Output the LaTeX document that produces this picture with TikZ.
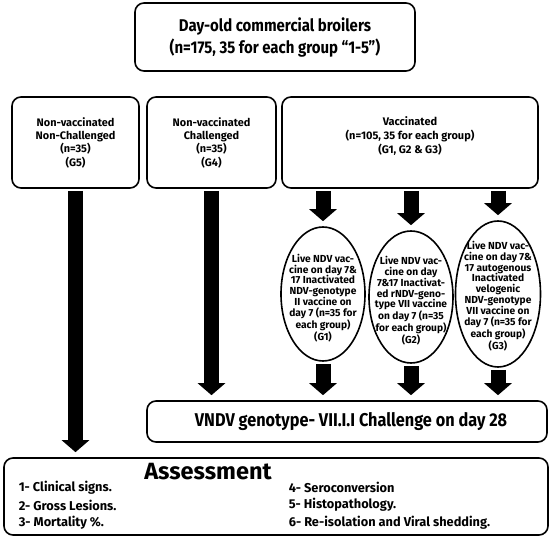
\documentclass[tikz,border=0pt]{standalone}
\usepackage{fontspec}
\setmainfont{Fira Sans}
\newfontfamily\condfont{Fira Sans}[FakeStretch=0.88]
\usetikzlibrary{
	positioning,
	shapes.geometric,
	arrows.meta
}
\tikzset{
	every picture/.style={
		line width=1.6pt,
		x=1pt,
		y=-1pt,
		font=\bfseries,
	},
}
\tikzstyle{box} = [
	draw,
	rounded corners=9pt,
	align=center,
	inner sep=0pt
]
\tikzstyle{oval} = [draw, ellipse, inner sep=0pt, minimum width=84]
\tikzstyle{ovaltext} = [align=center, font=\bfseries\fontsize{10.2}{10.8}\selectfont]
\tikzstyle{item} = [anchor=west, inner sep=0pt, font=\bfseries\fontsize{12.8}{14}\selectfont]
\tikzstyle{bigarrow} = [
	line width=15pt,
	-{Triangle[width=27pt, length=12pt]},
	shorten <=2pt,
	shorten >=5pt
]

\begin{document}
\begin{tikzpicture}
	\useasboundingbox (0,0) rectangle (550,540);

	\node[box, minimum width=280, minimum height=68, font=\condfont\bfseries\fontsize{17}{22}\selectfont] (start) at (275,37) {
		Day-old commercial broilers\\
		(n=175, 35 for each group “1-5”)
	};

	\node[box, minimum width=127, minimum height=91, font=\bfseries\fontsize{10.9}{13.3}\selectfont] (g5) at (75.5,142.5) {
		Non-vaccinated\\Non-Challenged\\(n=35)\\(G5)
	};
	\node[box, minimum width=129, minimum height=91, font=\bfseries\fontsize{10.9}{13.3}\selectfont] (g4) at (211.5,142.5) {
		Non-vaccinated\\Challenged\\(n=35)\\(G4)
	};
	\node[box, minimum width=256, minimum height=91] (vac) at (410,142.5) {};
	\node[align=center, font=\bfseries\fontsize{11}{14}\selectfont] (vactext) at (410,136) {
		Vaccinated\\(n=105, 35 for each group)\\(G1, G2 \& G3)
	};

	\node[oval, minimum height=134] (e1) at (323,294) {};
	\node[oval, minimum height=132] (e2) at (411,297) {};
	\node[oval, minimum height=146, minimum width=85] (e3) at (498,294) {};

	\node[ovaltext] (t1) at ([yshift=-4pt]e1.center) {
		Live NDV vac-\\cine on day 7\&\\17 Inactivated\\NDV-genotype\\II vaccine on\\day 7 (n=35 for\\each group)\\(G1)
	};
	\node[ovaltext] (t2) at ([yshift=-4pt]e2.center) {
		Live NDV vac-\\cine on day\\7\&17 Inactivat-\\ed rNDV-geno-\\type VII vaccine\\on day 7 (n=35\\for each group)\\(G2)
	};
	\node[ovaltext] (t3) at ([yshift=-2pt]e3.center) {
		Live NDV vac-\\cine on day 7\&\\17 autogenous\\Inactivated\\velogenic\\NDV-genotype\\VII vaccine on\\day 7 (n=35 for\\each group)\\(G3)
	};

	\node[box, minimum width=400, minimum height=41, font=\condfont\bfseries\fontsize{18.5}{20}\selectfont] (chal) at (347,421.5) {
		\hspace*{12pt}VNDV genotype- VII.I.I Challenge on day 28
	};

	\node[box, minimum width=544, minimum height=77] (assess) at (276,496.5) {};
	\node[anchor=base, inner sep=0pt, font=\bfseries\fontsize{23.5}{26}\selectfont] (atitle) at (208,480) {Assessment};

	\foreach \t [count=\n] in {Clinical signs., Gross Lesions., Mortality \%.}
		\node[item] (l\n) at (18,470+17.5*\n) {\n- \t};
	\foreach \t [count=\n from 4] in {Seroconversion, Histopathology., Re-isolation and Viral shedding.}
		\node[item] (r\n) at (288,470+17.5*\n-52.5) {\n- \t};

	\draw[bigarrow] (g5.south) -- (g5.south |- assess.north);
	\draw[bigarrow] (g4.south) -- (g4.south |- chal.north);
	\foreach \e in {e1, e2, e3} {
		\draw[bigarrow] (\e.north |- vac.south) -- (\e.north);
		\draw[bigarrow] (\e.south) -- (\e.south |- chal.north);
	}
\end{tikzpicture}
\end{document}
